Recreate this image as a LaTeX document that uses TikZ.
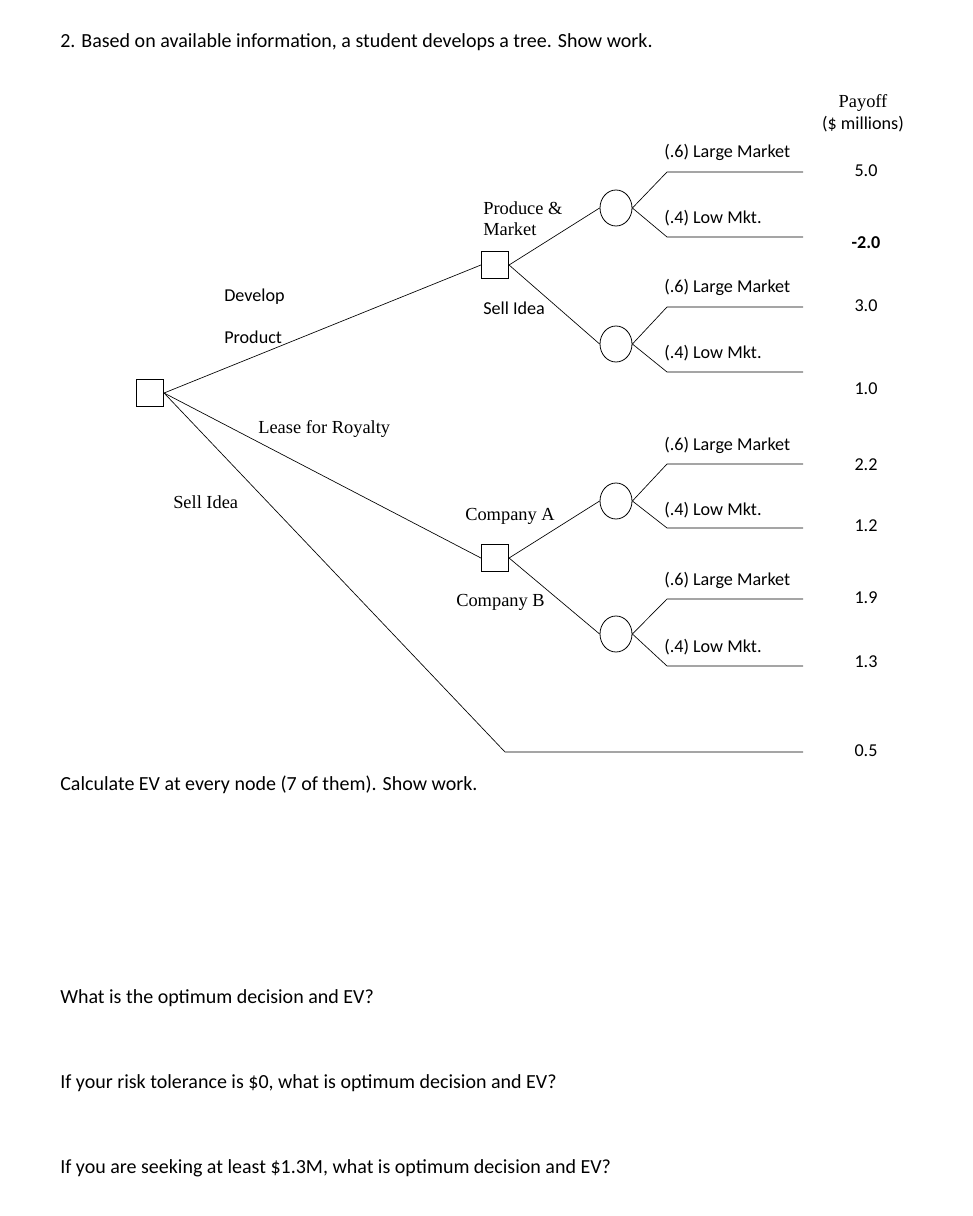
\documentclass[tikz,border=0pt]{standalone}
\usepackage{fontspec}
\usetikzlibrary{shapes.geometric}
\setmainfont{Carlito}
\newfontfamily\tms{Liberation Serif}
\begin{document}
\begin{tikzpicture}[x=0.75pt,y=-0.75pt,
  dec/.style={draw,minimum width=20.5pt,minimum height=20.5pt,inner sep=0pt,line width=0.6pt},
  chance/.style={draw,ellipse,minimum width=24pt,minimum height=27pt,inner sep=0pt,line width=0.6pt},
  br/.style={line width=0.5pt},
  lab/.style={font=\fontsize{13.6}{16}\selectfont,inner sep=0pt},
  slab/.style={font=\tms\fontsize{13.8}{16}\selectfont,inner sep=0pt},
  txt/.style={font=\fontsize{15}{18}\selectfont,anchor=west,inner sep=0pt},
  pay/.style={font=\fontsize{13.6}{16}\selectfont,inner sep=0pt}]
\useasboundingbox (0,0) rectangle (972,1216);
\node[txt] at (60,42) {2. Based on available information, a student develops a tree. Show work.};
\node[dec] (r) at (150,393) {};
\node[dec] (d1) at (495,265) {};
\node[dec] (d2) at (495,558) {};
\node[chance] (c1) at (616,208) {};
\node[chance] (c2) at (616,344) {};
\node[chance] (c3) at (616,501) {};
\node[chance] (c4) at (616,634) {};
\coordinate (s1) at (505,752); \coordinate (s2) at (803,752);
\draw[br] (r.east) -- (d1.west);
\draw[br] (r.east) -- (d2.west);
\draw[br] (r.east) -- (s1) -- (s2);
\draw[br] (d1.east) -- (c1.west);
\draw[br] (d1.east) -- (c2.west);
\draw[br] (d2.east) -- (c3.west);
\draw[br] (d2.east) -- (c4.west);
\foreach \c/\a/\b in {c1/172/237,c2/307/372,c3/464/528,c4/599/666}{
  \coordinate (\c u) at (667,\a); \coordinate (\c ue) at (803,\a);
  \coordinate (\c d) at (667,\b); \coordinate (\c de) at (803,\b);
  \draw[br] (\c.east) -- (\c u) -- (\c ue);
  \draw[br] (\c.east) -- (\c d) -- (\c de);
}
\node[lab,anchor=west] at (224,297) {Develop};
\node[lab,anchor=west] at (224,337) {Product};
\node[slab,anchor=west] at (258,429) {Lease for Royalty};
\node[slab,anchor=west] at (173,502) {Sell Idea};
\node[slab,anchor=west,align=left] at (483,219) {Produce \&\\Market};
\node[lab,anchor=west] at (483,308) {Sell Idea};
\node[slab,anchor=west] at (465,516) {Company A};
\node[slab,anchor=west] at (456,602) {Company B};
\foreach \y/\t in {152/{(.6) Large Market},218/{(.4) Low Mkt.},287/{(.6) Large Market},353/{(.4) Low Mkt.},445/{(.6) Large Market},510/{(.4) Low Mkt.},580/{(.6) Large Market},647/{(.4) Low Mkt.}}
  \node[lab,anchor=west] at (664,\y) {\t};
\node[slab] at (863,103) {Payoff};
\node[lab] at (863,124) {(\$ millions)};
\foreach \y/\t in {171/5.0,306/3.0,389/1.0,465/2.2,526/1.2,598/1.9,662/1.3,751/0.5}
  \node[pay] at (866,\y) {\t};
\node[pay,font=\bfseries\fontsize{13.6}{16}\selectfont] at (866,243) {-2.0};
\node[txt] at (60,785) {Calculate EV at every node (7 of them). Show work.};
\node[txt] at (60,998) {What is the optimum decision and EV?};
\node[txt] at (60,1083) {If your risk tolerance is \$0, what is optimum decision and EV?};
\node[txt] at (60,1168) {If you are seeking at least \$1.3M, what is optimum decision and EV?};
\end{tikzpicture}
\end{document}
